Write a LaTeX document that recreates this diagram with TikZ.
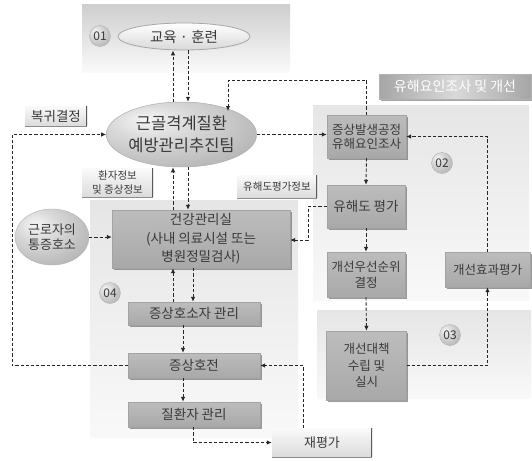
\documentclass[tikz,border=0pt]{standalone}
\usepackage{fontspec}
\setmainfont{Noto Sans CJK KR}
\usetikzlibrary{arrows.meta,shadows,calc,shapes.geometric}
\definecolor{txt}{HTML}{3A3A3A}
\newcommand{\fs}[2]{\fontsize{#1}{#2}\selectfont}
\pgfdeclareradialshading{softball}{\pgfpoint{-12bp}{12bp}}{color(0bp)=(gray!8); color(14bp)=(gray!30); color(34bp)=(gray!56); color(52bp)=(gray!70); color(80bp)=(gray!75)}
\tikzset{
  panelbg/.style={draw=none, top color=gray!20, bottom color=gray!5},
  gbox/.style={rectangle, inner sep=0pt, align=center, text=txt,
     top color=gray!52, bottom color=gray!68, draw=gray!72,
     drop shadow={shadow xshift=1.6pt, shadow yshift=-1.6pt, fill=black!70, opacity=.55}},
  lbox/.style={rectangle, inner sep=0pt, align=center, text=txt,
     top color=gray!4, bottom color=gray!28, draw=none,
     path picture={\draw[black!65, line width=1.3pt] (path picture bounding box.north east) -- (path picture bounding box.south east);
                   \draw[black!45, line width=0.8pt] (path picture bounding box.south west) -- (path picture bounding box.south east);}},
  badge/.style={circle, minimum size=21pt, inner sep=0pt, shading=softball, draw=gray!60, line width=0.4pt, text=txt, font=\fs{12}{12}},
  arr/.style={draw=black!85, line width=0.9pt, dash pattern=on 3.2pt off 2pt, -{Latex[length=5pt,width=4.5pt]}}
}
\begin{document}
\begin{tikzpicture}[x=1pt,y=-1pt]
\useasboundingbox (0,0) rectangle (532,460);
\fill[white] (0,0) rectangle (532,460);
% panels
\path[panelbg, top color=gray!38, bottom color=gray!4] (82,5) rectangle (290,72);
\path[panelbg] (313,105) rectangle (529,300);
\path[panelbg] (317,310) rectangle (531,398);
\path[panelbg] (90,200) rectangle (298,437);
% nodes
\node[ellipse, minimum width=132pt, minimum height=27pt, inner sep=0pt, top color=white, bottom color=gray!30, draw=gray!70, line width=0.8pt, text=txt, font=\fs{14.5}{16}] (edu) at (184,36.5) {교육 · 훈련};
\node[badge] (b1) at (100,36) {01};
\node[ellipse, minimum width=133pt, minimum height=65pt, inner sep=0pt, shading=softball, draw=gray!65, line width=0.5pt, text=txt, align=center, font=\fs{16.5}{22}] (team) at (181.5,134.5) {근골격계질환\\예방관리추진팀};
\node[lbox, minimum width=62pt, minimum height=20pt, font=\fs{13.5}{15}] (bok) at (56,116) {복귀결정};
\node[rectangle, minimum width=152pt, minimum height=25pt, inner sep=0pt, left color=gray!70, right color=gray!70, middle color=gray!30, draw=gray!60, text=white, font=\fs{14}{15},
  drop shadow={shadow xshift=1.5pt, shadow yshift=-1.5pt, fill=black!70, opacity=.5}] (yuh) at (455,86.5) {유해요인조사 및 개선};
\node[gbox, minimum width=79pt, minimum height=43pt, font=\fs{12.5}{14}] (bal) at (366.5,136.5) {증상발생공정\\유해요인조사};
\node[badge] (b2) at (442,163) {02};
\node[gbox, minimum width=78pt, minimum height=43pt, font=\fs{13.5}{15}] (hp) at (366,206.5) {유해도 평가};
\node[gbox, minimum width=78pt, minimum height=45pt, font=\fs{12.5}{16}] (pri) at (366,274.5) {개선우선순위\\결정};
\node[gbox, minimum width=85pt, minimum height=35pt, font=\fs{12.5}{14}] (eff) at (487.5,269.5) {개선효과평가};
\node[badge] (b3) at (450,335) {03};
\node[gbox, minimum width=80pt, minimum height=69pt, font=\fs{12.5}{16.5}] (dae) at (366.5,365.5) {개선대책\\수립 및\\실시};
\node[lbox, minimum width=71pt, minimum height=29pt, font=\fs{10.5}{14}] (pat) at (117.5,182.5) {환자정보\\및 증상정보};
\node[lbox, minimum width=80pt, minimum height=23pt, font=\fs{10.5}{12}] (hinfo) at (277,186.5) {유해도평가정보};
\node[gbox, minimum width=178pt, minimum height=58pt, font=\fs{13.5}{18.5}] (health) at (201,239) {건강관리실\\(사내 의료시설 또는\\병원정밀검사)};
\node[ellipse, minimum width=74pt, minimum height=56pt, inner sep=0pt, shading=softball, draw=gray!60, line width=0.4pt, text=txt, align=center, font=\fs{13}{15.5}] (worker) at (52,237) {근로자의\\통증호소};
\node[badge] (b4) at (110,293) {04};
\node[gbox, minimum width=132pt, minimum height=23pt, font=\fs{13.5}{15}] (sym) at (194,313.5) {증상호소자 관리};
\node[gbox, minimum width=132pt, minimum height=25pt, font=\fs{13.5}{15}] (imp) at (194,365.5) {증상호전};
\node[gbox, minimum width=132pt, minimum height=25pt, font=\fs{13.5}{15}] (dis) at (194,414.5) {질환자 관리};
\node[lbox, minimum width=100pt, minimum height=29pt, font=\fs{13}{15}] (re) at (322,442.5) {재평가};
% helper coordinates
\coordinate (lx) at (12,0);
\coordinate (c1) at (228,80);
\coordinate (teamtop) at (228,111);
\coordinate (rx) at (308,0);
% connectors
\draw[arr] ([xshift=-8.5pt]team.north) -- ([xshift=-8.5pt]team.north |- edu.south);
\draw[arr] ([xshift=4pt]edu.south) -- ([xshift=4pt]edu.south |- team.north);
\draw[arr] ([xshift=-28pt]health.north) -- ([xshift=-28pt]health.north |- team.south);
\draw[arr] ([xshift=6.5pt]team.south) -- ([xshift=6.5pt]team.south |- health.north);
\draw[arr] ([xshift=-21pt]sym.north) -- ([xshift=-21pt]sym.north |- health.south);
\draw[arr] ([xshift=-1pt]sym.north |- health.south) -- ([xshift=-1pt]sym.north);
\draw[arr] ([xshift=-11pt]sym.south) -- ([xshift=-11pt]imp.north);
\draw[arr] ([xshift=-11pt]imp.south) -- ([xshift=-11pt]dis.north);
\draw[arr] (team.east) -- (team.east -| bal.west);
\draw[arr] (bal.north) |- (c1) -- (teamtop);
\draw[arr] (imp.west) -- (imp.west -| lx) -- (team.west -| lx) -- (team.west);
\draw[arr] (hp.west) -- (hp.west -| rx) -- ([yshift=-1pt]health.east -| rx) -- ([yshift=-1pt]health.east);
\draw[arr] (bal.south) -- (hp.north);
\draw[arr] (hp.south) -- (pri.north);
\draw[arr] (pri.south) -- (dae.north);
\draw[arr] (dae.east) -| (eff.south);
\draw[arr] (eff.north) |- (bal.east);
\draw[arr] (worker.east) -- (worker.east -| health.west);
\draw[arr] ([xshift=-1pt]dis.south) |- (re.west);
\draw[arr] ([xshift=-19pt]re.north) |- (imp.east);
\end{tikzpicture}
\end{document}
